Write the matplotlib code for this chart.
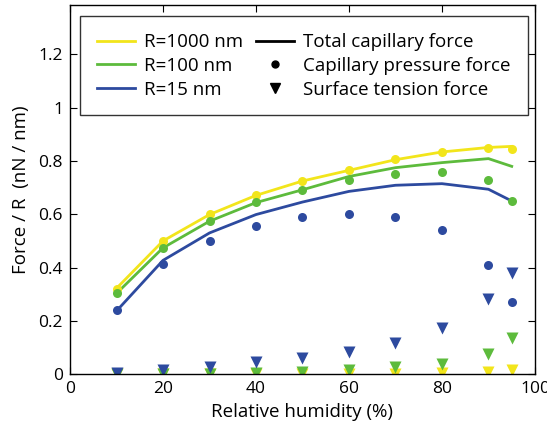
import matplotlib.pyplot as plt
from matplotlib.lines import Line2D

plt.rcParams['font.family'] = ['Open Sans', 'DejaVu Sans']

rh = [10, 20, 30, 40, 50, 60, 70, 80, 90, 95]

# total capillary force (lines)
total_1000 = [0.322, 0.500, 0.599, 0.671, 0.725, 0.765, 0.805, 0.834, 0.851, 0.855]
total_100 = [0.303, 0.474, 0.574, 0.644, 0.692, 0.742, 0.775, 0.794, 0.809, 0.780]
total_15 = [0.237, 0.427, 0.530, 0.599, 0.646, 0.686, 0.709, 0.715, 0.694, 0.650]

# capillary pressure force (dots)
press_1000 = [0.320, 0.500, 0.600, 0.672, 0.726, 0.766, 0.806, 0.835, 0.850, 0.844]
press_100 = [0.303, 0.474, 0.575, 0.645, 0.693, 0.730, 0.752, 0.759, 0.730, 0.650]
press_15 = [0.240, 0.412, 0.500, 0.555, 0.590, 0.600, 0.589, 0.540, 0.411, 0.271]

# surface tension force (triangles)
surf_1000 = [0.0, 0.0, 0.0, 0.0005, 0.001, 0.001, 0.002, 0.003, 0.007, 0.015]
surf_100 = [0.0, 0.001, 0.002, 0.004, 0.009, 0.015, 0.026, 0.038, 0.075, 0.136]
surf_15 = [0.005, 0.015, 0.027, 0.045, 0.060, 0.084, 0.117, 0.174, 0.281, 0.380]

labels = ['R=1000 nm', 'R=100 nm', 'R=15 nm']
colors = ['#f2e51b', '#5dbb3c', '#2d4a9f']

fig = plt.figure(figsize=(5.47, 4.34), dpi=100)
ax = fig.add_axes([0.128, 0.138, 0.850, 0.850])

series = [(total_1000, press_1000, surf_1000),
          (total_100, press_100, surf_100),
          (total_15, press_15, surf_15)]
for (tot, pr, su), c in zip(series, colors):
    ax.plot(rh, tot, color=c, lw=2)
for (tot, pr, su), c in zip(series, colors):
    ax.plot(rh, pr, 'o', color=c, ms=6.5, mec='none')
for (tot, pr, su), c in zip(series, colors):
    ax.plot(rh, su, 'v', color=c, ms=8, mec='none')

ax.set_xlim(0, 100)
ax.set_ylim(0, 1.385)
ax.set_xticks([0, 20, 40, 60, 80, 100])
ax.set_yticks([0, 0.2, 0.4, 0.6, 0.8, 1, 1.2])
ax.set_yticklabels(['0', '0.2', '0.4', '0.6', '0.8', '1', '1.2'])
ax.tick_params(direction='in', length=5, labelsize=12.5, top=True, right=True, pad=5)
ax.set_xlabel('Relative humidity (%)', fontsize=13.5, labelpad=4)
ax.set_ylabel('Force / R  (nN / nm)', fontsize=13.5, labelpad=6)
for s in ax.spines.values():
    s.set_linewidth(1)

handles = [Line2D([], [], color=colors[0], lw=2),
           Line2D([], [], color=colors[1], lw=2),
           Line2D([], [], color=colors[2], lw=2),
           Line2D([], [], color='k', lw=2),
           Line2D([], [], ls='none', marker='o', color='k', ms=5),
           Line2D([], [], ls='none', marker='v', color='k', ms=7)]
names = labels + ['Total capillary force', 'Capillary pressure force',
                  'Surface tension force']
leg = ax.legend(handles, names, ncol=2, loc='upper center', fontsize=13.5,
                frameon=True, fancybox=False, edgecolor='k',
                handlelength=2.0, handletextpad=0.5, columnspacing=0.7,
                labelspacing=0.3, borderpad=0.9, bbox_to_anchor=(0.503, 0.995))
leg.get_frame().set_linewidth(1)

fig.savefig('out.png', dpi=100)
